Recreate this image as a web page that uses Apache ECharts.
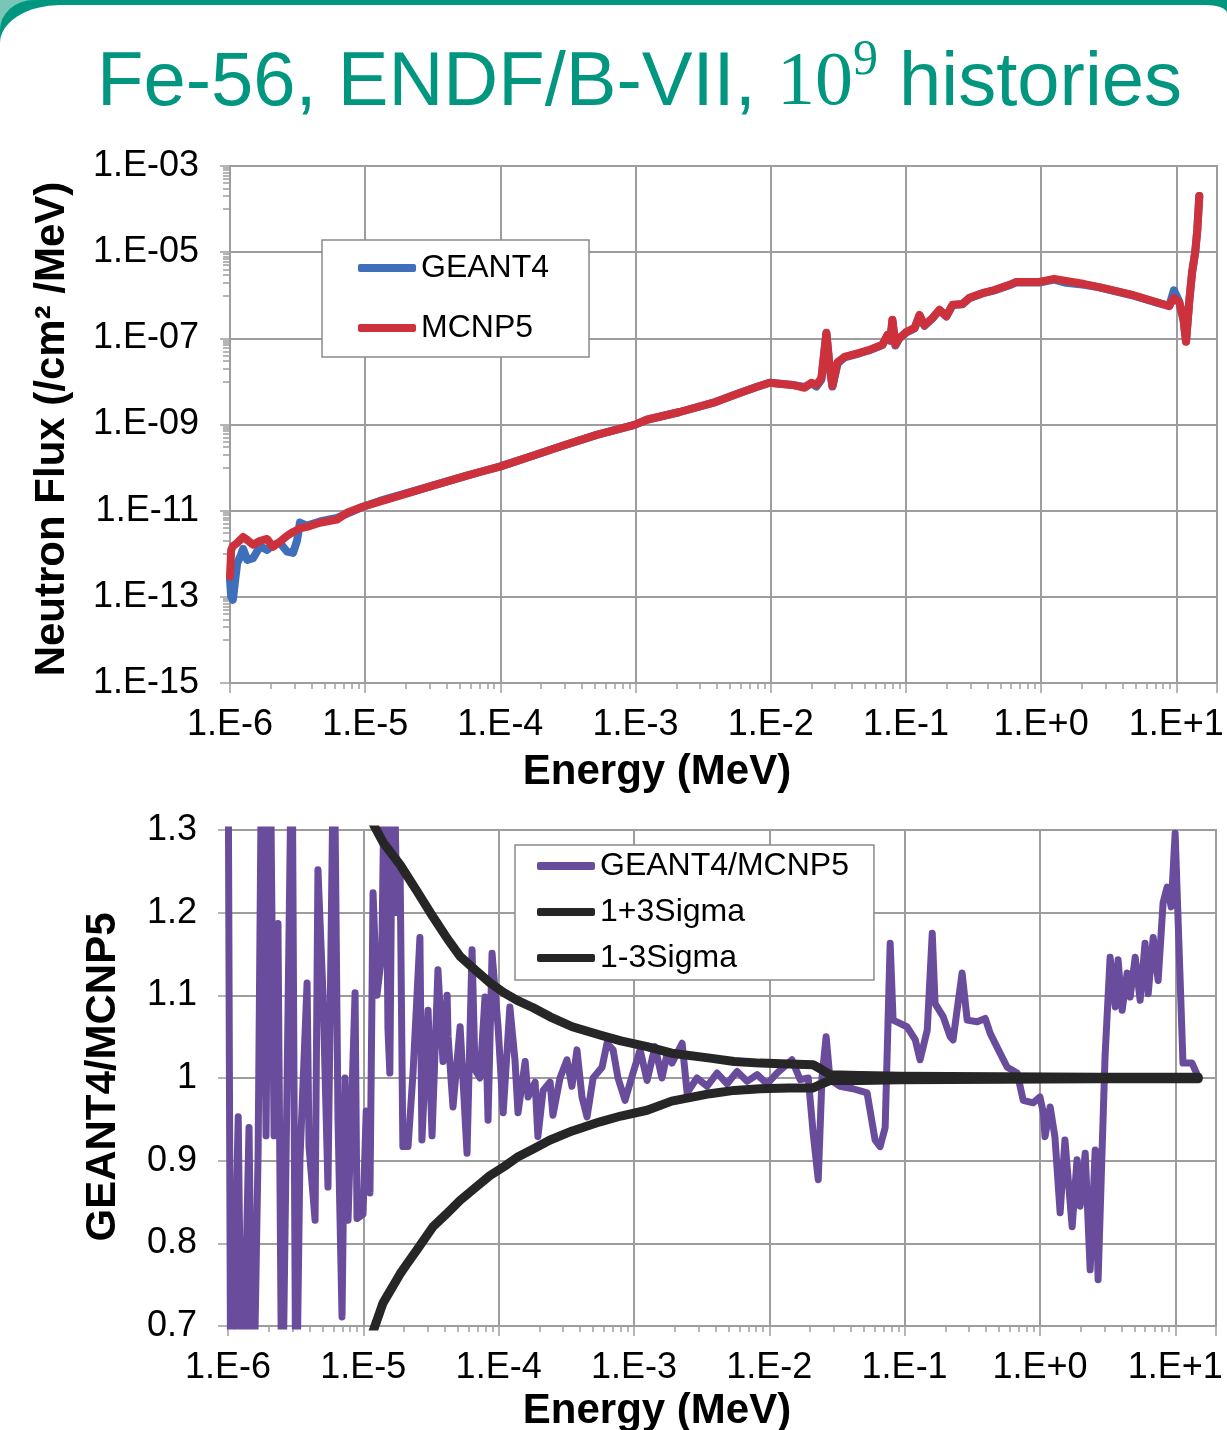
<!DOCTYPE html>
<html>
<head>
<meta charset="utf-8">
<title>Fe-56 neutron flux</title>
<script src="https://cdn.jsdelivr.net/npm/echarts@6/dist/echarts.min.js"></script>
<style>
  html, body { margin: 0; padding: 0; background: #fff; }
  #frame { position: absolute; left: 0; top: 0; width: 1227px; height: 1430px; background: #78c6b6; overflow: hidden; }
  #band { position: absolute; left: 0; top: 0; width: 1227px; height: 1430px; background: #00967f; border-top-left-radius: 34px 30px; }
  #panel { position: absolute; left: 0; top: 5px; width: 1227px; height: 1425px; background: #fff; border-top-left-radius: 60px 38px; border-top-right-radius: 22px 8px; }
  #chart { position: absolute; left: 0; top: 0; width: 1227px; height: 1430px; }
</style>
</head>
<body>
<div id="frame"><div id="band"></div><div id="panel"></div></div>
<div id="chart"></div>
<script>
// energies in MeV, flux in /cm2/MeV
const energyTop = [
  1.0e-6, 1.02e-6, 1.05e-6, 1.13e-6, 1.19e-6, 1.25e-6, 1.34e-6, 1.48e-6, 1.67e-6, 1.88e-6,
  2.08e-6, 2.34e-6, 2.64e-6, 2.93e-6, 3.13e-6, 3.29e-6, 3.71e-6, 4.62e-6, 6.18e-6, 7.32e-6, 9.6e-6,
  1.28e-5, 1.80e-5, 3.16e-5, 5.65e-5, 7.05e-5, 9.9e-5, 1.65e-4, 2.89e-4, 5.16e-4, 9.84e-4,
  1.21e-3, 2.12e-3, 3.72e-3, 5.88e-3, 7.85e-3, 9.8e-3,
  1.45e-2, 1.78e-2, 2.0e-2, 2.18e-2, 2.37e-2, 2.58e-2, 2.72e-2, 2.86e-2, 3.12e-2, 3.51e-2,
  4.53e-2, 5.37e-2, 6.70e-2, 7.30e-2, 7.67e-2, 7.94e-2, 8.36e-2, 8.95e-2,
  0.101, 0.116, 0.126, 0.137, 0.157, 0.177, 0.199, 0.221, 0.262, 0.295,
  0.367, 0.451, 0.582, 0.656, 0.97, 1.25, 1.53, 2.09, 2.69, 4.72,
  7.48, 8.87, 9.6, 10.5, 11.3, 11.8, 12.5, 13.1, 13.8, 14.3, 14.8
];
const fluxMcnp5 = [
  3.0e-13, 1.23e-12, 1.5e-12, 1.78e-12, 2.1e-12, 2.45e-12, 2.1e-12, 1.62e-12, 2.0e-12, 2.2e-12,
  1.45e-12, 1.9e-12, 2.6e-12, 3.2e-12, 3.55e-12, 3.9e-12, 4.2e-12, 5.25e-12, 6.2e-12, 8.9e-12, 1.23e-11,
  1.62e-11, 2.24e-11, 3.8e-11, 6.5e-11, 7.9e-11, 1.05e-10, 1.78e-10, 3.2e-10, 5.75e-10, 9.8e-10,
  1.29e-9, 1.95e-9, 3.16e-9, 5.4e-9, 7.4e-9, 9.3e-9,
  8.3e-9, 7.1e-9, 9.3e-9, 8.3e-9, 1.2e-8, 1.35e-7, 2.4e-8, 7.9e-9, 2.8e-8, 3.7e-8,
  4.6e-8, 5.4e-8, 7.1e-8, 1.2e-7, 9.1e-8, 2.7e-7, 7.1e-8, 1.02e-7,
  1.41e-7, 1.74e-7, 3.5e-7, 2.0e-7, 2.95e-7, 4.6e-7, 3.3e-7, 6.0e-7, 6.3e-7, 8.7e-7,
  1.12e-6, 1.32e-6, 1.74e-6, 2.04e-6, 2.04e-6, 2.4e-6, 2.15e-6, 1.82e-6, 1.55e-6, 1.02e-6,
  6.6e-7, 5.6e-7, 8.7e-7, 6.9e-7, 2.7e-7, 8.3e-8, 7.8e-7, 3.5e-6, 1.0e-5, 3.3e-5, 2.0e-4
];
const fluxGeant4 = [
  2.5e-13, 1.0e-13, 8.5e-14, 6.0e-13, 8.5e-13, 1.3e-12, 7.2e-13, 7.9e-13, 1.5e-12, 1.23e-12,
  1.6e-12, 1.8e-12, 1.12e-12, 1.05e-12, 2.0e-12, 5.3e-12, 4.5e-12, 5.6e-12, 6.8e-12, 8.5e-12, 1.23e-11,
  1.68e-11, 2.3e-11, 3.8e-11, 6.5e-11, 7.9e-11, 1.05e-10, 1.78e-10, 3.2e-10, 5.75e-10, 9.8e-10,
  1.29e-9, 1.95e-9, 3.16e-9, 5.4e-9, 7.4e-9, 9.3e-9,
  8.3e-9, 7.4e-9, 9.0e-9, 7.6e-9, 1.1e-8, 1.3e-7, 2.2e-8, 7.6e-9, 2.6e-8, 3.6e-8,
  4.5e-8, 5.3e-8, 7.0e-8, 1.15e-7, 8.8e-8, 2.6e-7, 6.8e-8, 1.0e-7,
  1.38e-7, 1.7e-7, 3.4e-7, 1.95e-7, 2.9e-7, 4.5e-7, 3.2e-7, 5.9e-7, 6.2e-7, 8.5e-7,
  1.1e-6, 1.3e-6, 1.7e-6, 2.0e-6, 1.98e-6, 2.3e-6, 1.95e-6, 1.75e-6, 1.52e-6, 1.0e-6,
  6.5e-7, 5.7e-7, 1.3e-6, 7.2e-7, 2.8e-7, 8.6e-8, 8.0e-7, 3.5e-6, 1.0e-5, 3.3e-5, 2.0e-4
];

// GEANT4/MCNP5 ratio
const energyRatio = [
  1.00e-6, 1.05e-6, 1.19e-6, 1.27e-6, 1.43e-6, 1.53e-6, 1.67e-6, 1.78e-6, 1.91e-6, 2.04e-6,
  2.19e-6, 2.34e-6, 2.51e-6, 2.73e-6, 2.97e-6, 3.18e-6, 3.40e-6, 3.84e-6, 3.97e-6, 4.40e-6,
  4.62e-6, 5.04e-6, 5.48e-6, 6.07e-6, 6.50e-6, 6.96e-6, 7.32e-6, 7.71e-6, 8.69e-6, 8.98e-6, 9.95e-6,
  1.05e-5, 1.12e-5, 1.18e-5, 1.26e-5, 1.37e-5, 1.45e-5, 1.52e-5, 1.57e-5, 1.66e-5, 1.77e-5,
  1.87e-5, 1.96e-5, 2.14e-5, 2.33e-5, 2.62e-5, 2.71e-5, 3.01e-5, 3.22e-5, 3.56e-5, 3.88e-5,
  4.16e-5, 4.23e-5, 4.60e-5, 5.19e-5, 5.84e-5, 6.36e-5, 6.69e-5, 7.28e-5, 7.93e-5, 8.35e-5, 8.94e-5, 9.90e-5,
  1.08e-4, 1.21e-4, 1.32e-4, 1.39e-4, 1.57e-4, 1.65e-4, 1.86e-4, 1.95e-4, 2.13e-4, 2.40e-4,
  2.52e-4, 2.84e-4, 3.20e-4, 3.48e-4, 3.79e-4, 4.13e-4, 4.50e-4, 4.99e-4, 5.81e-4, 6.32e-4,
  7.01e-4, 7.62e-4, 8.59e-4, 9.84e-4,
  1.11e-3, 1.25e-3, 1.43e-3, 1.61e-3, 1.76e-3, 1.91e-3, 2.27e-3, 2.47e-3, 2.92e-3, 3.47e-3,
  4.11e-3, 4.88e-3, 5.78e-3, 6.85e-3, 8.13e-3, 9.64e-3,
  1.14e-2, 1.47e-2, 1.69e-2, 1.94e-2, 2.11e-2, 2.30e-2, 2.45e-2, 2.63e-2, 2.81e-2, 3.33e-2,
  4.16e-2, 5.28e-2, 6.05e-2, 6.59e-2, 7.18e-2, 7.82e-2, 8.22e-2,
  0.104, 0.120, 0.130, 0.147, 0.160, 0.168, 0.193, 0.217, 0.228, 0.266,
  0.290, 0.344, 0.394, 0.429, 0.483, 0.573, 0.679, 0.752, 0.891, 1.00,
  1.06, 1.09, 1.19, 1.29, 1.41, 1.53, 1.73, 1.88, 1.98, 2.16, 2.35, 2.56, 2.69, 2.88,
  3.03, 3.30, 3.60, 3.78, 4.05, 4.41, 4.64, 5.06, 5.50, 5.98,
  6.31, 6.87, 7.47, 8.13, 8.71, 9.33, 9.98, 10.5, 11.4, 13.3, 14.8
];
const ratio = [
  1.45, 0.55, 0.953, 0.55, 0.94, 0.55, 0.913, 1.45, 0.93, 1.45,
  0.93, 1.187, 0.55, 0.99, 1.45, 0.55, 0.90, 1.115, 0.917, 0.828,
  1.252, 1.10, 0.868, 1.45, 0.95, 0.711, 1.0, 0.828, 1.103, 0.83, 0.835,
  0.96, 0.861, 1.224, 1.10, 1.15, 1.45, 1.06, 1.006, 1.45, 1.20,
  1.252, 0.917, 0.917, 1.006, 1.17, 0.925, 1.082, 0.93, 1.131, 1.02,
  1.10, 1.05, 0.965, 1.062, 0.909, 1.155, 1.01, 1.0, 1.098, 0.949, 1.151, 1.062,
  0.958, 1.086, 1.022, 0.958, 1.02, 0.977, 0.995, 0.929, 0.985, 0.995,
  0.955, 1.0, 1.022, 0.99, 1.034, 0.977, 0.953, 1.0, 1.013, 1.042,
  1.034, 1.0, 0.973, 1.006,
  1.034, 0.997, 1.038, 1.0, 1.03, 1.018, 1.042, 0.982, 1.0, 0.99,
  1.006, 0.993, 1.008, 0.996, 1.004, 0.993,
  1.006, 1.022, 0.998, 1.0, 0.933, 0.877, 1.0, 1.05, 0.998, 0.99,
  0.987, 0.982, 0.925, 0.917, 0.94, 1.163, 1.07,
  1.062, 1.046, 1.022, 1.058, 1.175, 1.09, 1.074, 1.05, 1.046, 1.127,
  1.07, 1.068, 1.072, 1.054, 1.037, 1.013, 1.006, 0.973, 0.97, 0.977,
  0.958, 0.929, 0.965, 0.929, 0.837, 0.925, 0.82, 0.901, 0.845, 0.909, 0.768, 0.913, 0.756, 0.913,
  1.027, 1.146, 1.086, 1.143, 1.082, 1.127, 1.098, 1.146, 1.094, 1.163,
  1.102, 1.17, 1.118, 1.212, 1.231, 1.207, 1.296, 1.19, 1.018, 1.018, 1.001
];

// +/- 3 sigma band
const energySigma = [
  1.16e-5, 1.40e-5, 1.87e-5, 2.1e-5, 2.49e-5, 3.27e-5, 4.2e-5, 5.19e-5, 6.8e-5, 8.64e-5,
  1.1e-4, 1.37e-4, 1.8e-4, 2.40e-4, 3.5e-4, 5.61e-4, 8.0e-4, 1.25e-3, 1.9e-3, 3.65e-3,
  5.5e-3, 8.55e-3, 1.4e-2, 2.11e-2, 2.45e-2, 2.81e-2, 4.69e-2, 9.27e-2, 0.508, 2.79, 14.8
];
const sigmaPlus = [
  1.31, 1.285, 1.258, 1.245, 1.226, 1.195, 1.168, 1.147, 1.13, 1.115,
  1.103, 1.094, 1.085, 1.074, 1.062, 1.052, 1.045, 1.038, 1.03, 1.024,
  1.02, 1.018, 1.017, 1.016, 1.01, 1.004, 1.003, 1.002, 1.0015, 1.001, 1.001
];
const sigmaMinus = [
  0.69, 0.728, 0.763, 0.775, 0.792, 0.82, 0.837, 0.852, 0.868, 0.882,
  0.893, 0.904, 0.914, 0.925, 0.936, 0.947, 0.954, 0.961, 0.972, 0.981,
  0.985, 0.987, 0.988, 0.988, 0.993, 0.997, 0.997, 0.998, 0.9985, 0.999, 0.999
];

const energyLabels = ['1.E-6', '1.E-5', '1.E-4', '1.E-3', '1.E-2', '1.E-1', '1.E+0', '1.E+1'];
const fluxLabels = ['1.E-15', '1.E-13', '1.E-11', '1.E-09', '1.E-07', '1.E-05', '1.E-03'];

const FONT = '"Liberation Sans", Arial, sans-serif';
const GRID_COLOR = '#9d9d9d';
const lg = Math.log10;

// log axes are drawn as value axes in decades
const xMin = -6;
const xMax = lg(20);
const minorX = [];
for (let n = -6; n <= 0; n++) {
  for (let k = 2; k <= 9; k++) minorX.push(n + lg(k));
}
const minorY = [];
for (let e = -14; e <= -4; e += 2) {
  for (let k = 1; k <= 9; k++) minorY.push(e + lg(k));
}

function energyAxis(gridIndex) {
  return {
    type: 'value', gridIndex, min: xMin, max: xMax, interval: 1,
    axisLine: { show: true, onZero: false, lineStyle: { color: GRID_COLOR, width: 2 } },
    axisTick: { show: true, length: 10, lineStyle: { color: GRID_COLOR, width: 1.5 } },
    axisLabel: {
      margin: 24, color: '#000', fontSize: 36, fontFamily: FONT,
      formatter: v => Number.isInteger(v) ? energyLabels[v - xMin] : ''
    },
    splitLine: { show: true, lineStyle: { color: GRID_COLOR, width: 2 } }
  };
}
function minorAxis(gridIndex, dim, values, len) {
  return {
    type: 'value', gridIndex,
    min: dim === 'x' ? xMin : -15, max: dim === 'x' ? xMax : -3,
    position: dim === 'x' ? 'bottom' : 'left',
    axisLine: { show: false, onZero: false },
    axisTick: { show: true, length: len, customValues: values, lineStyle: { color: GRID_COLOR, width: 1.5 } },
    axisLabel: { show: false },
    splitLine: { show: false }
  };
}
function lineSeries(name, color, width, xs, ys, xi, yi, toLog) {
  return {
    name, type: 'line', xAxisIndex: xi, yAxisIndex: yi,
    data: xs.map((e, i) => [lg(e), toLog ? lg(ys[i]) : ys[i]]),
    symbol: 'none', showSymbol: false, clip: true, animation: false,
    itemStyle: { color },
    lineStyle: { color, width, cap: 'round', join: 'round' }
  };
}

const chart = echarts.init(document.getElementById('chart'), null, { renderer: 'canvas' });

chart.setOption({
  animation: false,
  backgroundColor: 'transparent',
  grid: [
    { left: 230, top: 166, width: 987, height: 517, show: true, borderColor: GRID_COLOR, borderWidth: 2 },
    { left: 228, top: 830, width: 988, height: 496, show: true, borderColor: GRID_COLOR, borderWidth: 2 }
  ],
  xAxis: [
    energyAxis(0),
    minorAxis(0, 'x', minorX, 6),
    energyAxis(1),
    minorAxis(1, 'x', minorX, 6)
  ],
  yAxis: [
    {
      type: 'value', gridIndex: 0, min: -15, max: -3, interval: 2,
      axisLine: { show: true, onZero: false, lineStyle: { color: GRID_COLOR, width: 2 } },
      axisTick: { show: true, length: 10, lineStyle: { color: GRID_COLOR, width: 1.5 } },
      axisLabel: {
        margin: 31, color: '#000', fontSize: 36, fontFamily: FONT,
        formatter: v => fluxLabels[(v + 15) / 2]
      },
      splitLine: { show: true, lineStyle: { color: GRID_COLOR, width: 2 } }
    },
    minorAxis(0, 'y', minorY, 7),
    {
      type: 'value', gridIndex: 1, min: 0.7, max: 1.3, interval: 0.1,
      axisLine: { show: true, onZero: false, lineStyle: { color: GRID_COLOR, width: 2 } },
      axisTick: { show: true, length: 10, lineStyle: { color: GRID_COLOR, width: 1.5 } },
      axisLabel: { margin: 31, color: '#000', fontSize: 36, fontFamily: FONT },
      splitLine: { show: true, lineStyle: { color: GRID_COLOR, width: 2 } }
    }
  ],
  legend: [
    {
      data: ['GEANT4', 'MCNP5'], orient: 'vertical', left: 322, top: 240,
      backgroundColor: '#fff', borderColor: '#8a8a8a', borderWidth: 1.5,
      padding: [12, 40, 13, 36], itemGap: 28, itemWidth: 58, itemHeight: 8, icon: 'roundRect',
      textStyle: { fontSize: 32, lineHeight: 32, fontFamily: FONT, color: '#000' }
    },
    {
      data: ['GEANT4/MCNP5', '1+3Sigma', '1-3Sigma'], orient: 'vertical', left: 515, top: 845,
      backgroundColor: '#fff', borderColor: '#8a8a8a', borderWidth: 1.5,
      padding: [5, 25, 6, 22], itemGap: 14, itemWidth: 58, itemHeight: 8, icon: 'roundRect',
      textStyle: { fontSize: 32, lineHeight: 32, fontFamily: FONT, color: '#000' }
    }
  ],
  series: [
    lineSeries('GEANT4', '#3f6fba', 8, energyTop, fluxGeant4, 0, 0, true),
    lineSeries('MCNP5', '#cd323c', 8, energyTop, fluxMcnp5, 0, 0, true),
    lineSeries('GEANT4/MCNP5', '#6a4c9c', 7, energyRatio, ratio, 2, 2, false),
    lineSeries('1+3Sigma', '#262626', 9, energySigma, sigmaPlus, 2, 2, false),
    lineSeries('1-3Sigma', '#262626', 9, energySigma, sigmaMinus, 2, 2, false)
  ],
  graphic: [
    {
      type: 'text', left: 97, top: 36,
      style: {
        text: '{a|Fe-56, ENDF/B-VII, }{b|10}{c|9}{a| histories}',
        fill: '#00967f',
        rich: {
          a: { fontSize: 76, fontFamily: FONT, lineHeight: 86, fill: '#00967f', verticalAlign: 'bottom' },
          b: { fontSize: 76, fontFamily: '"Liberation Serif", "Times New Roman", serif', lineHeight: 86, fill: '#00967f', verticalAlign: 'bottom' },
          c: { fontSize: 50, fontFamily: '"Liberation Serif", "Times New Roman", serif', lineHeight: 40, fill: '#00967f', verticalAlign: 'top' }
        }
      }
    },
    {
      type: 'text', x: 52, y: 429, rotation: Math.PI / 2,
      style: { text: 'Neutron Flux (/cm\u00b2 /MeV)', font: 'bold 42px ' + FONT, fill: '#000', align: 'center', verticalAlign: 'middle' }
    },
    {
      type: 'text', x: 657, y: 772,
      style: { text: 'Energy (MeV)', font: 'bold 42px ' + FONT, fill: '#000', align: 'center', verticalAlign: 'middle' }
    },
    {
      type: 'text', x: 103, y: 1077, rotation: Math.PI / 2,
      style: { text: 'GEANT4/MCNP5', font: 'bold 42px ' + FONT, fill: '#000', align: 'center', verticalAlign: 'middle' }
    },
    {
      type: 'text', x: 657, y: 1411,
      style: { text: 'Energy (MeV)', font: 'bold 42px ' + FONT, fill: '#000', align: 'center', verticalAlign: 'middle' }
    }
  ]
});
</script>
</body>
</html>
